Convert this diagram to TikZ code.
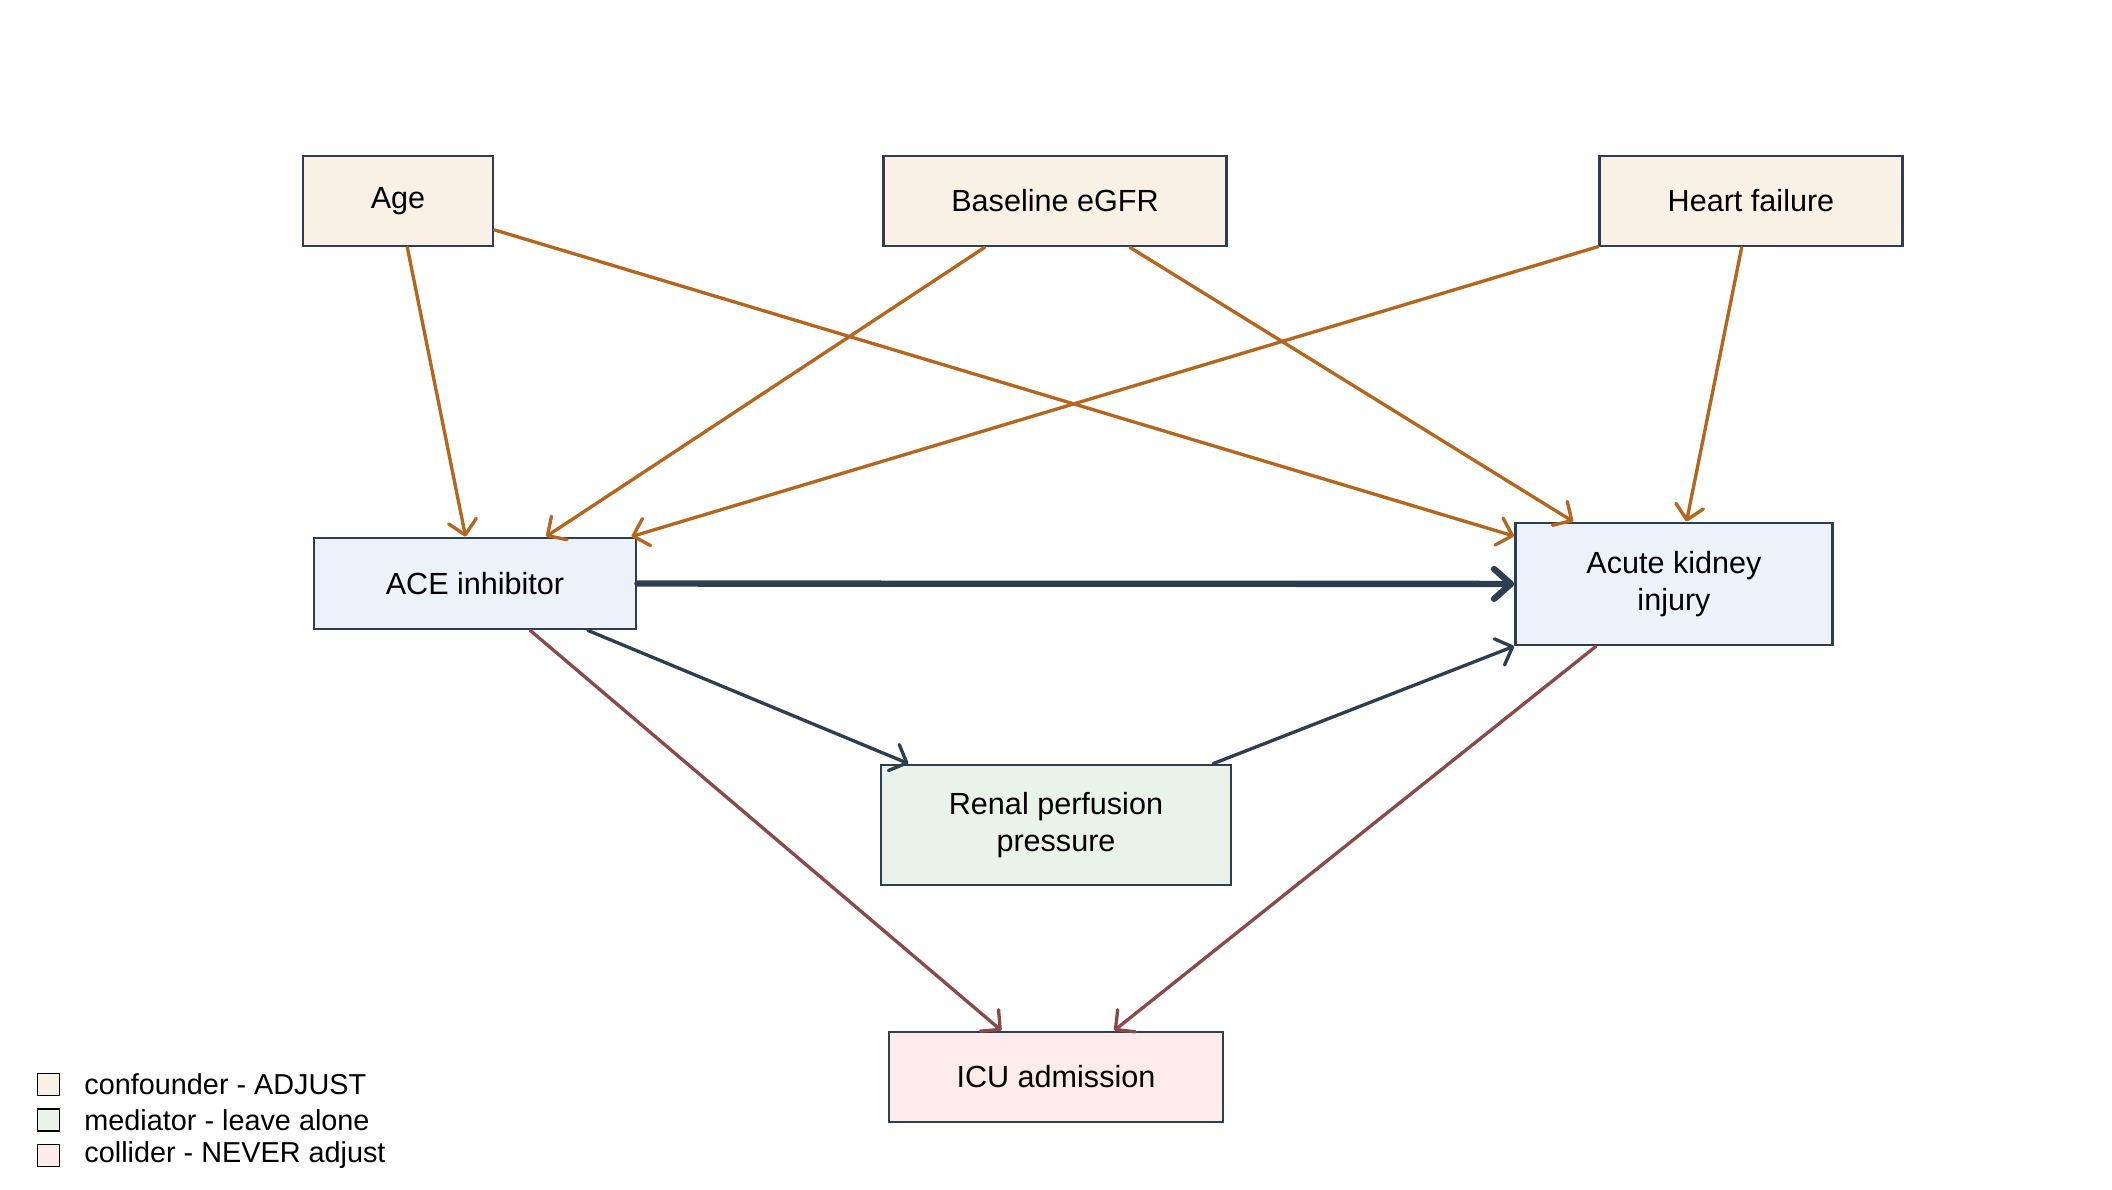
\documentclass[tikz,border=0pt]{standalone}
\usepackage{fontspec}
\setmainfont{Liberation Sans}
\usetikzlibrary{positioning,arrows.meta}

\definecolor{edgeconf}{HTML}{B5651D}
\definecolor{edgemain}{HTML}{2C3E50}
\definecolor{edgecoll}{HTML}{8B4A4A}
\definecolor{fillconf}{HTML}{FAF1E6}
\definecolor{fillmain}{HTML}{EDF1F9}
\definecolor{fillmed}{HTML}{E9F3EA}
\definecolor{fillcoll}{HTML}{FDEBEB}

\begin{document}
\begin{tikzpicture}[
  font=\fontsize{8.7}{10.6}\selectfont,
  box/.style={draw=edgemain, line width=0.8pt, align=center, inner sep=3pt},
  conf/.style={box, fill=fillconf},
  main/.style={box, fill=fillmain},
  med/.style={box, fill=fillmed},
  coll/.style={box, fill=fillcoll},
  arr/.style={-{Straight Barb[length=4pt, width=8pt, round]}, line width=0.95pt, line cap=round},
  arrthick/.style={-{Straight Barb[length=4.8pt, width=8.5pt, round]}, line width=1.8pt, line cap=round, draw=edgemain},
  key/.style={draw=black, line width=0.5pt, minimum size=0.22cm, inner sep=0pt},
  keytext/.style={anchor=west, font=\fontsize{8.2}{10}\selectfont}
]
\useasboundingbox (0,0) rectangle (21.12,-11.90);
% confounders
\node[conf, minimum width=1.90cm, minimum height=0.90cm] (node-age) at (3.98,-2.01) {Age};
\node[conf, minimum width=3.43cm, minimum height=0.90cm] (node-egfr) at (10.55,-2.01) {Baseline eGFR};
\node[conf, minimum width=3.03cm, minimum height=0.90cm] (node-hf) at (17.51,-2.01) {Heart failure};
% exposure, outcome, mediator, collider
\node[main, minimum width=3.22cm, minimum height=0.91cm] (node-ace) at (4.75,-5.835) {ACE inhibitor};
\node[main, minimum width=3.17cm, minimum height=1.22cm] (node-aki) at (16.74,-5.84) {Acute kidney\\injury};
\node[med, minimum width=3.50cm, minimum height=1.20cm] (node-renal) at (10.56,-8.25) {Renal perfusion\\pressure};
\node[coll, minimum width=3.34cm, minimum height=0.90cm] (node-icu) at (10.56,-10.77) {ICU admission};
% edges
\draw[arr, draw=edgeconf] (node-age) -- (node-ace);
\draw[arr, draw=edgeconf] (node-age) -- (node-aki);
\draw[arr, draw=edgeconf] (node-egfr) -- (node-ace);
\draw[arr, draw=edgeconf] (node-egfr) -- (node-aki);
\draw[arr, draw=edgeconf] (node-hf) -- (node-ace);
\draw[arr, draw=edgeconf] (node-hf) -- (node-aki);
\draw[arrthick] (node-ace) -- (node-aki);
\draw[arr, draw=edgemain] (node-ace) -- (node-renal);
\draw[arr, draw=edgemain] (node-renal) -- (node-aki);
\draw[arr, draw=edgecoll] (node-ace) -- (node-icu);
\draw[arr, draw=edgecoll] (node-aki) -- (node-icu);
% legend
\node[key, fill=fillconf] (key-conf) at (0.485,-10.845) {};
\node[key, fill=fillmed] (key-med) at (0.485,-11.20) {};
\node[key, fill=fillcoll] (key-coll) at (0.485,-11.555) {};
\node[keytext] (keytext-conf) at (0.72,-10.845) {confounder - ADJUST};
\node[keytext] (keytext-med) at (0.72,-11.20) {mediator - leave alone};
\node[keytext] (keytext-coll) at (0.72,-11.555) {collider - NEVER adjust};
\end{tikzpicture}
\end{document}
